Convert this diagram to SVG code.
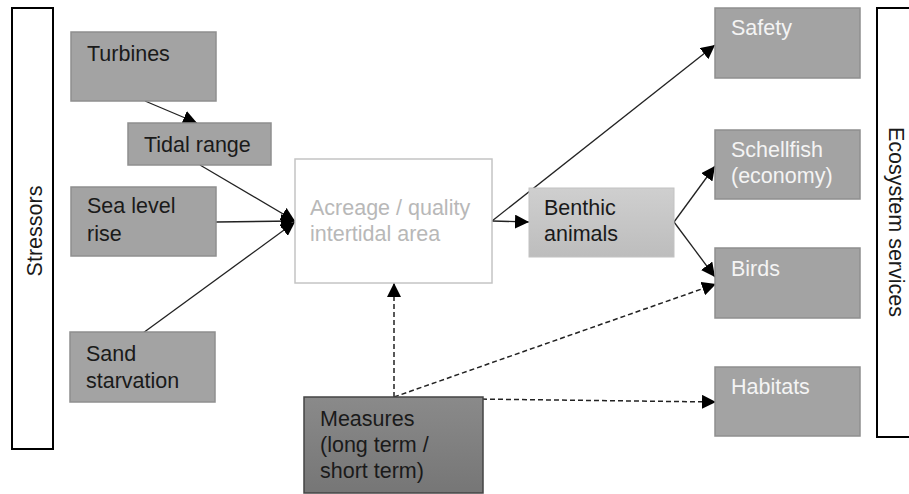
<svg xmlns="http://www.w3.org/2000/svg" width="909" height="494" viewBox="0 0 909 494">
<defs>
<linearGradient id="gBenthic" x1="0" y1="0" x2="0" y2="1"><stop offset="0" stop-color="#cfcfcf"/><stop offset="1" stop-color="#bdbdbd"/></linearGradient>
<linearGradient id="gMeasures" x1="0" y1="0" x2="0" y2="1"><stop offset="0" stop-color="#8a8a8a"/><stop offset="1" stop-color="#767676"/></linearGradient>
<marker id="ah" viewBox="0 0 10 10" refX="10" refY="5" markerWidth="8" markerHeight="8" markerUnits="userSpaceOnUse" orient="auto"><path d="M0,0 L10,5 L0,10 z" fill="#000"/></marker>
<marker id="ahl" viewBox="0 0 10 10" refX="10" refY="5" markerWidth="14" markerHeight="14" markerUnits="userSpaceOnUse" orient="auto"><path d="M0,0 L10,5 L0,10 z" fill="#000"/></marker>
</defs>
<style>
text{font-family:"Liberation Sans",Arial,sans-serif;font-size:21.5px}
.box{fill:#a3a3a3;stroke:#8f8f8f;stroke-width:1.5}
.dark{fill:#1a1a1a}
.white{fill:#f4f4f4}
.bar{fill:#fff;stroke:#000;stroke-width:2}
.c{fill:none;stroke:#222;stroke-width:1.3;marker-end:url(#ahl)}
.d{fill:none;stroke:#222;stroke-width:1.5;stroke-dasharray:5,3;marker-end:url(#ahl)}
</style>
<g id="stressors"><rect class="bar" x="12" y="8" width="41" height="441"/><text class="dark" font-size="22" transform="translate(42,231) rotate(-90)" text-anchor="middle">Stressors</text></g>
<g id="ecosystem"><rect class="bar" x="877" y="8" width="40" height="429"/><text class="dark" font-size="22" transform="translate(889,222) rotate(90)" text-anchor="middle">Ecosystem services</text></g>
<g id="connectors">
<line class="c" x1="145" y1="101" x2="197" y2="123"/>
<line class="c" x1="200" y1="165" x2="295" y2="221"/>
<line class="c" x1="216" y1="222" x2="295" y2="221"/>
<line class="c" x1="143" y1="333" x2="295" y2="222"/>
<line class="c" x1="492" y1="221" x2="529" y2="222"/>
<line class="c" x1="492" y1="221" x2="715" y2="45"/>
<line class="c" x1="674" y1="222" x2="715" y2="166"/>
<line class="c" x1="674" y1="222" x2="715" y2="277"/>
<line class="d" x1="394" y1="397" x2="394" y2="283"/>
<line class="d" x1="394" y1="397" x2="716" y2="284"/>
<line class="d" x1="394" y1="398" x2="716" y2="402"/>
</g>
<g id="turbines"><rect class="box" x="71" y="32" width="145" height="69"/><text class="dark" x="87" y="61">Turbines</text></g>
<g id="tidal"><rect class="box" x="128" y="123" width="143" height="42"/><text class="dark" x="144" y="152">Tidal range</text></g>
<g id="sealevel"><rect class="box" x="71" y="187" width="145" height="69"/><text class="dark" x="87" y="213">Sea level</text><text class="dark" x="87" y="241">rise</text></g>
<g id="sand"><rect class="box" x="70" y="332" width="145" height="70"/><text class="dark" x="86" y="361">Sand</text><text class="dark" x="86" y="388">starvation</text></g>
<g id="acreage"><rect x="295" y="159" width="197" height="124" fill="#fff" stroke="#c4c4c4" stroke-width="1.5"/><text fill="#b8b8b8" x="310" y="215">Acreage / quality</text><text fill="#b8b8b8" x="310" y="241">intertidal area</text></g>
<g id="benthic"><rect x="529" y="188" width="145" height="69" fill="url(#gBenthic)" stroke="#c2c2c2" stroke-width="1"/><text class="dark" x="544" y="215">Benthic</text><text class="dark" x="544" y="241">animals</text></g>
<g id="measures"><rect x="304" y="397" width="179" height="96" fill="url(#gMeasures)" stroke="#444" stroke-width="1.5"/><text class="dark" x="320" y="426">Measures</text><text class="dark" x="320" y="452">(long term /</text><text class="dark" x="320" y="478">short term)</text></g>
<g id="safety"><rect class="box" x="715" y="8" width="145" height="70"/><text class="white" x="731" y="35">Safety</text></g>
<g id="schellfish"><rect class="box" x="715" y="130" width="145" height="69"/><text class="white" x="731" y="157">Schellfish</text><text class="white" x="731" y="183">(economy)</text></g>
<g id="birds"><rect class="box" x="715" y="248" width="145" height="70"/><text class="white" x="731" y="276">Birds</text></g>
<g id="habitats"><rect class="box" x="715" y="367" width="145" height="69"/><text class="white" x="731" y="394">Habitats</text></g>
</svg>
